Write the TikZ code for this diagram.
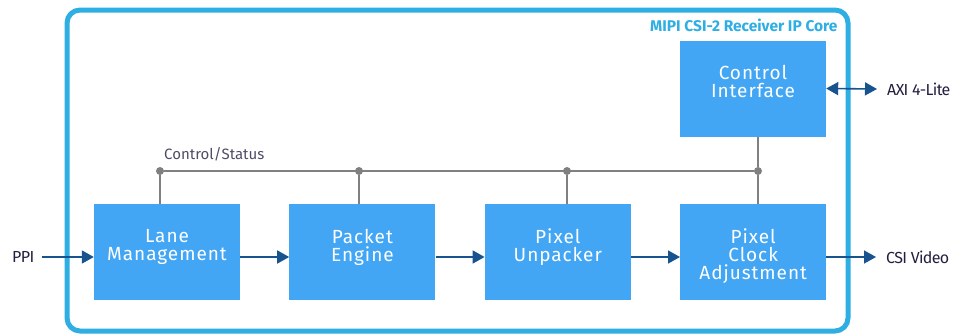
\documentclass[tikz,border=0pt]{standalone}
\usepackage{fontspec}
\setmainfont{Fira Sans}
\usetikzlibrary{positioning,arrows.meta}
\definecolor{frameblue}{HTML}{2EAEE3}
\definecolor{boxblue}{HTML}{42A6F4}
\definecolor{arrowblue}{HTML}{17548F}
\definecolor{labelnavy}{HTML}{231F40}
\definecolor{busgray}{HTML}{808080}
\tikzset{
block/.style={
fill=boxblue,
minimum width=146pt,minimum height=96pt,
inner sep=0pt},
blocktext/.style={
text=white,align=center,anchor=north,inner sep=0pt,yshift=-25pt,
font={\fontsize{19pt}{18pt}\selectfont\addfontfeatures{LetterSpace=5}}},
sig/.style={arrowblue,line width=1.6pt,-{Triangle[length=12pt,width=13pt]}},
bus/.style={busgray,line width=1.2pt},
dot/.style={circle,fill=busgray,minimum size=8pt,inner sep=0pt},
port/.style={text=labelnavy,inner sep=0pt,
font={\fontsize{16pt}{17pt}\selectfont\addfontfeatures{LetterSpace=-4}}}
}

\begin{document}
\begin{tikzpicture}[x=1pt,y=-1pt]
  \useasboundingbox (0,0) rectangle (966,335);
  % frame of the core
  \draw[frameblue,line width=5pt,rounded corners=13pt] (67,10) rectangle (848,331);
  \node[anchor=east,text=frameblue,font={\fontsize{15.5pt}{16pt}\selectfont\bfseries}] (core) at (841,25) {MIPI CSI-2 Receiver IP Core};
  % blocks
  \node[block, label={[blocktext]north:Lane\\Management}] (lane) at (167,252) {};
  \node[block, right=49pt of lane, label={[blocktext]north:Packet\\Engine}] (pkt) {};
  \node[block, right=49pt of pkt, label={[blocktext]north:Pixel\\Unpacker}] (unp) {};
  \node[block, right=49pt of unp, label={[blocktext]north:Pixel\\Clock\\Adjustment}] (pca) {};
  \node[block, label={[blocktext]north:Control\\Interface}] (ci) at (753,88.5) {};
  % control/status bus
  \node[dot] (d1) at (160,171) {};
  \node[dot] (d2) at (359,171) {};
  \node[dot] (d3) at (567,171) {};
  \node[dot] (d4) at (758,171) {};
  \draw[bus] (d1) -- (d4);
  \draw[bus] (d1) -- (d1 |- lane.north);
  \draw[bus] (d2) -- (d2 |- pkt.north);
  \draw[bus] (d3) -- (d3 |- unp.north);
  \draw[bus] (d4) -- (d4 |- pca.north);
  \draw[bus] (d4) -- (d4 |- ci.south);
  \node[anchor=south west,text=labelnavy!80,inner sep=0pt,font={\fontsize{15pt}{16pt}\selectfont}] (cs) at (164,161) {Control/Status};
  % ports
  \node[port,anchor=west] (ppi) at (12,257) {PPI};
  \node[port,anchor=west] (axi) at (887,89) {AXI 4-Lite};
  \node[port,anchor=west] (csi) at (886,257) {CSI Video};
  % data path
  \draw[sig] ([xshift=8pt]ppi.east |- 0,257) -- ([yshift=-5pt]lane.west);
  \draw[sig] ([yshift=-5pt]lane.east) -- ([yshift=-5pt]pkt.west);
  \draw[sig] ([yshift=-5pt]pkt.east) -- ([yshift=-5pt]unp.west);
  \draw[sig] ([yshift=-5pt]unp.east) -- ([yshift=-5pt]pca.west);
  \draw[sig] ([yshift=-5pt]pca.east) -- ([xshift=-10pt]csi.west);
  \draw[sig,{Triangle[length=12pt,width=13pt]}-{Triangle[length=12pt,width=13pt]}] (ci.east) -- ([xshift=-10pt]axi.west);
\end{tikzpicture}
\end{document}
